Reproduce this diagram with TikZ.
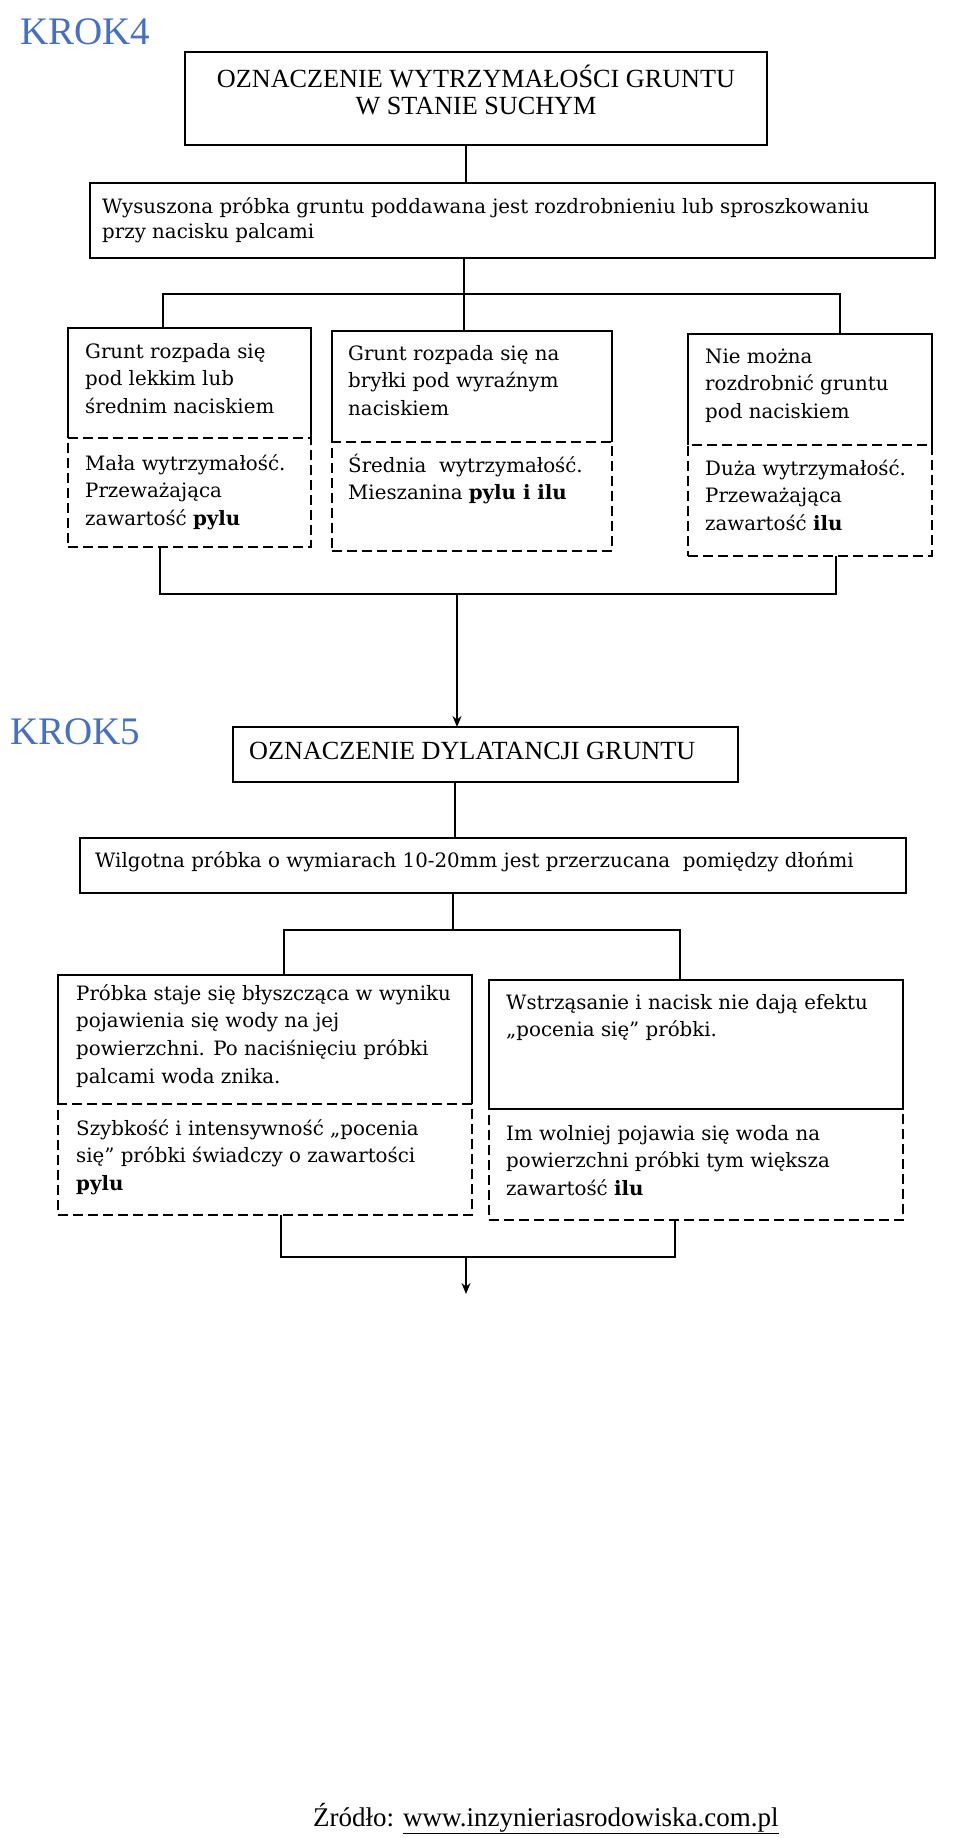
\documentclass[tikz,border=0pt]{standalone}
\usepackage{fontspec}
\setmainfont{DejaVu Serif}
\newfontfamily\tnr{Liberation Serif}
\usetikzlibrary{arrows.meta}
\definecolor{krokblue}{RGB}{70,112,198}
\newcommand\mlines[1]{\begin{tabular}[t]{@{}l@{}}#1\end{tabular}}
\newcommand\clines[1]{\begin{tabular}[t]{@{}c@{}}#1\end{tabular}}
\begin{document}
\begin{tikzpicture}[x=1pt,y=-1pt,
  part/.style={draw=none,inner sep=0pt,outer sep=0pt,anchor=north west},
  solidbox/.style={part,draw=black,line width=1.8pt},
  dashbox/.style={part,draw=black,line width=1.7pt,dash pattern=on 10pt off 5pt},
  frame/.style={draw=black,line width=1.8pt,line join=miter},
  conn/.style={draw=black,line width=1.6pt},
  arr/.style={conn,-{Stealth[length=11pt,width=9pt]}},
  body/.style={inner sep=0pt,anchor=base west,font=\fontsize{19.8}{27.7}\selectfont},
  titletxt/.style={inner sep=0pt,font=\tnr\fontsize{26.2}{27}\selectfont},
  kroktxt/.style={inner sep=0pt,anchor=base west,text=krokblue,font=\tnr\fontsize{39}{40}\selectfont},
  srctxt/.style={inner sep=0pt,anchor=base west,font=\tnr\fontsize{27}{30}\selectfont}
]
\fill[white] (0,0) rectangle (960,1838);
\useasboundingbox (0,0) rectangle (960,1838);

% ---------- KROK 4 ----------
\node[kroktxt] (k4) at (20,45) {KROK4};

\node[solidbox,minimum width=582pt,minimum height=93pt] (T1) at (185,52) {};
\node[titletxt,anchor=base] (T1t) at (476,88) {\clines{OZNACZENIE WYTRZYMAŁOŚCI GRUNTU\\W STANIE SUCHYM}};

\node[solidbox,minimum width=845pt,minimum height=75pt] (T2) at (90,183) {};
\node[body,font=\fontsize{19.8}{25}\selectfont] (T2t) at (102,213) {\mlines{Wysuszona próbka gruntu poddawana jest rozdrobnieniu lub sproszkowaniu\\przy nacisku palcami}};

% three boxes
\node[part,minimum width=243pt,minimum height=110pt] (A1) at (68,328) {};
\node[dashbox,minimum width=243pt,minimum height=109pt] (A2) at (68,438) {};
\draw[frame] (A1.south west) -- (A1.north west) -- (A1.north east) -- (A1.south east);
\node[body] (A1t) at (85,358) {\mlines{Grunt rozpada się\\pod lekkim lub\\średnim naciskiem}};
\node[body] (A2t) at (85,470) {\mlines{Mała wytrzymałość.\\Przeważająca\\zawartość \textbf{pylu}}};

\node[part,minimum width=280pt,minimum height=111pt] (B1) at (332,331) {};
\node[dashbox,minimum width=280pt,minimum height=109pt] (B2) at (332,442) {};
\draw[frame] (B1.south west) -- (B1.north west) -- (B1.north east) -- (B1.south east);
\node[body] (B1t) at (348,360) {\mlines{Grunt rozpada się na\\bryłki pod wyraźnym\\naciskiem}};
\node[body] (B2t) at (348,472) {\mlines{Średnia\ \ wytrzymałość.\\Mieszanina \textbf{pylu i ilu}}};

\node[part,minimum width=244pt,minimum height=111pt] (C1) at (688,334) {};
\node[dashbox,minimum width=244pt,minimum height=111pt] (C2) at (688,445) {};
\draw[frame] (C1.south west) -- (C1.north west) -- (C1.north east) -- (C1.south east);
\node[body] (C1t) at (705,363) {\mlines{Nie można\\rozdrobnić gruntu\\pod naciskiem}};
\node[body] (C2t) at (705,475) {\mlines{Duża wytrzymałość.\\Przeważająca\\zawartość \textbf{ilu}}};

% connectors KROK4
\coordinate (k1) at (466,0);
\draw[conn] (T1.south -| k1) -- (T2.north -| k1);
\coordinate (jA) at (163,294);
\coordinate (jB) at (464,294);
\coordinate (jC) at (840,294);
\draw[conn] (T2.south -| jB) -- (jB);
\draw[conn] (A1.north -| jA) -- (jA) -- (jC) -- (C1.north -| jC);
\draw[conn] (jB) -- (B1.north -| jB);

\coordinate (qA) at (160,594);
\coordinate (qC) at (836,594);
\coordinate (qM) at (457,594);
\draw[conn] (A2.south -| qA) -- (qA) -- (qC) -- (C2.south -| qC);

% ---------- KROK 5 ----------
\node[kroktxt] (k5) at (10,744) {KROK5};

\node[solidbox,minimum width=505pt,minimum height=55pt] (D) at (233,727) {};
\node[titletxt,anchor=base west] (Dt) at (249,759) {OZNACZENIE DYLATANCJI GRUNTU};
\draw[arr] (qM) -- (D.north -| qM);

\node[solidbox,minimum width=826pt,minimum height=55pt] (E) at (80,838) {};
\node[body] (Et) at (95,867) {Wilgotna próbka o wymiarach 10-20mm jest przerzucana\ \ pomiędzy dłońmi};
\coordinate (k2) at (455,0);
\draw[conn] (D.south -| k2) -- (E.north -| k2);

\node[part,minimum width=414pt,minimum height=129pt] (F1) at (58,975) {};
\node[dashbox,minimum width=414pt,minimum height=111pt] (F2) at (58,1104) {};
\draw[frame] (F1.south west) -- (F1.north west) -- (F1.north east) -- (F1.south east);
\node[body] (F1t) at (76,1000) {\mlines{Próbka staje się błyszcząca w wyniku\\pojawienia się wody na jej\\powierzchni. Po naciśnięciu próbki\\palcami woda znika.}};
\node[body] (F2t) at (76,1135) {\mlines{Szybkość i intensywność „pocenia\\się” próbki świadczy o zawartości\\\textbf{pylu}}};

\node[dashbox,minimum width=414pt,minimum height=111pt] (G2) at (489,1109) {};
\node[solidbox,minimum width=414pt,minimum height=129pt] (G1) at (489,980) {};
\node[body] (G1t) at (506,1009) {\mlines{Wstrząsanie i nacisk nie dają efektu\\„pocenia się” próbki.}};
\node[body] (G2t) at (506,1140) {\mlines{Im wolniej pojawia się woda na\\powierzchni próbki tym większa\\zawartość \textbf{ilu}}};

\coordinate (m2) at (453,930);
\coordinate (jF) at (284,930);
\coordinate (jG) at (680,930);
\draw[conn] (E.south -| m2) -- (m2);
\draw[conn] (F1.north -| jF) -- (jF) -- (jG) -- (G1.north -| jG);

\coordinate (rF) at (281,1257);
\coordinate (rG) at (675,1257);
\coordinate (rM) at (466,1257);
\coordinate (rEnd) at (466,1294);
\draw[conn] (F2.south -| rF) -- (rF) -- (rG) -- (G2.south -| rG);
\draw[arr] (rM) -- (rEnd);

% ---------- source ----------
\node[srctxt] (src) at (313,1826) {Źródło: \underline{www.inzynieriasrodowiska.com.pl}};
\end{tikzpicture}
\end{document}
